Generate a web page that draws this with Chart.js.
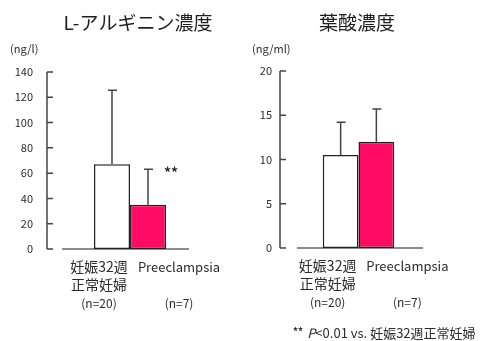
<!DOCTYPE html>
<html>
<head>
<meta charset="utf-8">
<script src="https://cdn.jsdelivr.net/npm/chart.js@4"></script>
<style>
  html, body { margin: 0; padding: 0; background: #fff; }
  #wrap { position: relative; width: 491px; height: 341px; }
  canvas { position: absolute; top: 0; }
</style>
</head>
<body>
<div id="wrap">
  <canvas id="arginine" width="245" height="341" style="left:0"></canvas>
  <canvas id="folate" width="246" height="341" style="left:245px"></canvas>
</div>
<script>
// Groups compared in both panels
const groups = ['妊娠32週\n正常妊婦', 'Preeclampsia'];
const groupSizes = ['(n=20)', '(n=7)'];
const groupColors = ['#ffffff', '#ff0a64'];

// L-arginine (ng/l): mean, SD and significance marks
const arginineMean = [67, 35];
const arginineSD = [58.5, 28];
const arginineMarks = ['', '**'];
const arginineTicks = [0, 20, 40, 60, 80, 100, 120, 140];

// Folic acid (ng/ml): mean, SD and significance marks
const folateMean = [10.5, 12.0];
const folateSD = [3.7, 3.7];
const folateMarks = ['', ''];
const folateTicks = [0, 5, 10, 15, 20];

const FONT = "'Noto Sans CJK JP', 'Noto Sans', sans-serif";
const INK = '#2b2b2b';
const LINE = '#444444';

// Axis line with inward ticks, baseline, error bars and all annotation text
const decorate = {
  id: 'decorate',
  beforeDatasetsDraw(chart, args, o) {
    const { ctx, chartArea: a, scales: { y } } = chart;
    ctx.save();
    ctx.strokeStyle = LINE;
    ctx.lineWidth = 1.5;
    ctx.beginPath();
    ctx.moveTo(a.left, y.getPixelForValue(y.max));
    ctx.lineTo(a.left, y.getPixelForValue(y.min));
    y.ticks.forEach(t => {
      const py = y.getPixelForValue(t.value);
      ctx.moveTo(a.left, py);
      ctx.lineTo(a.left + 6, py);
    });
    ctx.stroke();
    const y0 = y.getPixelForValue(0);
    ctx.strokeStyle = '#666666';
    ctx.beginPath();
    ctx.moveTo(a.left + o.base[0], y0);
    ctx.lineTo(a.left + o.base[1], y0);
    ctx.stroke();
    ctx.restore();
  },
  afterDatasetsDraw(chart, args, o) {
    const { ctx, scales: { y } } = chart;
    const y0 = y.getPixelForValue(0);
    ctx.save();
    // error bars (mean + SD)
    ctx.strokeStyle = LINE;
    ctx.lineWidth = 1.5;
    o.mean.forEach((m, i) => {
      const bar = chart.getDatasetMeta(i).data[0];
      const top = y.getPixelForValue(m + o.sd[i]);
      ctx.beginPath();
      ctx.moveTo(bar.x, y.getPixelForValue(m));
      ctx.lineTo(bar.x, top);
      ctx.moveTo(bar.x - 4, top);
      ctx.lineTo(bar.x + 5, top);
      ctx.stroke();
      if (o.marks[i]) {
        ctx.fillStyle = INK;
        ctx.font = 'bold 14px ' + FONT;
        ctx.textAlign = 'center';
        ctx.textBaseline = 'middle';
        ctx.fillText(o.marks[i], bar.x + 23, top + 3);
      }
    });
    // group labels under the baseline
    ctx.fillStyle = INK;
    ctx.textAlign = 'center';
    ctx.textBaseline = 'middle';
    groups.forEach((g, i) => {
      const bar = chart.getDatasetMeta(i).data[0];
      const cx = bar.x + o.labelShift[i];
      g.split('\n').forEach((line, k) => {
        ctx.font = (/^[A-Za-z]+$/.test(line) ? '13px ' : '14px ') + FONT;
        ctx.fillText(line, cx, y0 + 18 + k * 17.5);
      });
      ctx.font = '12px ' + FONT;
      ctx.fillText(groupSizes[i], cx, y0 + 54);
    });
    // panel title and unit
    ctx.fillStyle = '#1e1e1e';
    ctx.font = '19px ' + FONT;
    ctx.fillText(o.title, o.titleX, 23);
    ctx.fillStyle = INK;
    ctx.font = '11px ' + FONT;
    ctx.textAlign = 'left';
    ctx.fillText(o.unit, o.unitX, 49);
    // footnote
    if (o.footnote) {
      let x = o.footnote.x;
      const fy = o.footnote.y;
      ctx.font = 'bold 10px ' + FONT;
      ctx.fillText('**', x, fy - 2);
      x += ctx.measureText('**').width + 4;
      ctx.font = 'italic 13px ' + FONT;
      ctx.fillText('P', x, fy);
      x += ctx.measureText('P').width;
      ctx.font = '13px ' + FONT;
      ctx.fillText('<0.01 vs. 妊娠32週正常妊婦', x, fy);
    }
    ctx.restore();
  }
};

function panel(id, mean, sd, marks, ticks, cfg) {
  return new Chart(document.getElementById(id), {
    type: 'bar',
    data: {
      labels: [''],
      datasets: groups.map((g, i) => ({
        label: g,
        data: [mean[i]],
        backgroundColor: groupColors[i],
        borderColor: '#222222',
        borderWidth: 1.5,
        borderSkipped: false,
        barPercentage: 1,
        categoryPercentage: cfg.catPct
      }))
    },
    options: {
      responsive: false,
      animation: false,
      layout: { padding: cfg.padding },
      plugins: {
        legend: { display: false },
        tooltip: { enabled: false },
        decorate: {
          mean, sd, marks,
          base: cfg.base,
          labelShift: [-13, 31],
          title: cfg.title, titleX: cfg.titleX,
          unit: cfg.unit, unitX: cfg.unitX,
          footnote: cfg.footnote || null
        }
      },
      scales: {
        x: { display: false },
        y: {
          min: ticks[0],
          max: ticks[ticks.length - 1],
          ticks: {
            stepSize: ticks[1] - ticks[0],
            padding: cfg.tickPad,
            color: INK,
            font: { family: FONT, size: 11 }
          },
          grid: { display: false, drawTicks: false },
          border: { display: false },
          afterFit(s) { s.width = cfg.axisX; }
        }
      }
    },
    plugins: [decorate]
  });
}

panel('arginine', arginineMean, arginineSD, arginineMarks, arginineTicks, {
  padding: { left: 0, top: 72, right: 32, bottom: 92 },
  axisX: 47, tickPad: 14, catPct: 0.434, base: [15, 142],
  title: 'L-アルギニン濃度', titleX: 138,
  unit: '(ng/l)', unitX: 10
});

panel('folate', folateMean, folateSD, folateMarks, folateTicks, {
  padding: { left: 0, top: 71, right: 54, bottom: 93 },
  axisX: 35, tickPad: 8, catPct: 0.455, base: [17, 143],
  title: '葉酸濃度', titleX: 112,
  unit: '(ng/ml)', unitX: 7,
  footnote: { x: 48, y: 333 }
});
</script>
</body>
</html>
